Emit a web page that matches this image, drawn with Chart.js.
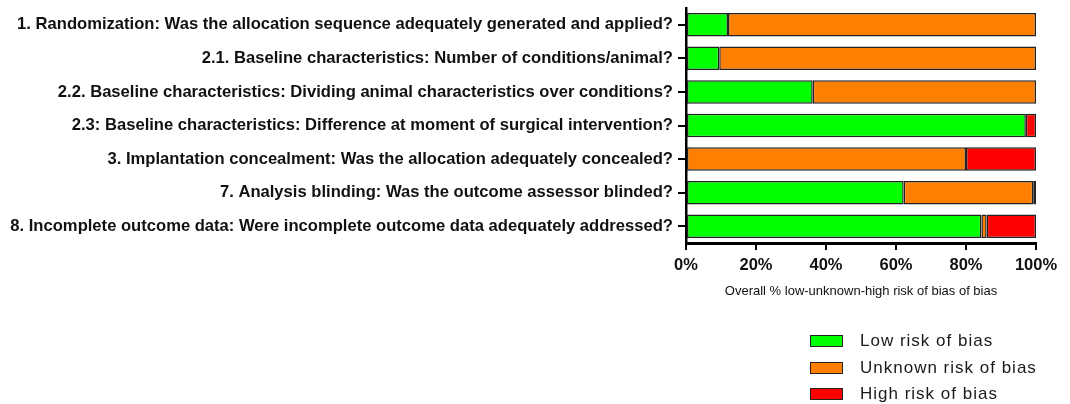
<!DOCTYPE html>
<html>
<head>
<meta charset="utf-8">
<script src="https://cdn.jsdelivr.net/npm/chart.js@4/dist/chart.umd.min.js"></script>
<style>
    html, body { margin: 0; padding: 0; background: #fff; }
    #wrap { position: relative; width: 1070px; height: 404px; }
    #legend { position: absolute; left: 810px; top: 328px; font-family: Arial, "Liberation Sans", sans-serif; font-size: 17px; letter-spacing: 1px; color: #1a1a1a; }
    .row { display: flex; align-items: center; height: 26.5px; }
    .box { width: 31px; height: 10px; border: 1.5px solid #222; margin-right: 17px; }
</style>
</head>
<body>
<div id="wrap">
    <canvas id="chart" width="1070" height="404"></canvas>
    <div id="legend"></div>
</div>
<script>
const questions = [
    '1. Randomization: Was the allocation sequence adequately generated and applied?',
    '2.1. Baseline characteristics: Number of conditions/animal?',
    '2.2. Baseline characteristics: Dividing animal characteristics over conditions?',
    '2.3: Baseline characteristics: Difference at moment of surgical intervention?',
    '3. Implantation concealment: Was the allocation adequately concealed?',
    '7. Analysis blinding: Was the outcome assessor blinded?',
    '8. Incomplete outcome data: Were incomplete outcome data adequately addressed?'
];
const lowRisk = [12, 9.5, 36.2, 97.1, 0, 62.2, 84.4];
const unknownRisk = [88, 90.5, 63.8, 0, 80, 37, 1.5];
const highRisk = [0, 0, 0, 2.9, 20, 0.8, 14.1];
const seriesNames = ['Low risk of bias', 'Unknown risk of bias', 'High risk of bias'];
const seriesColors = ['#00ff00', '#ff8000', '#ff0000'];
const xTicks = [0, 20, 40, 60, 80, 100];

const arial = 'Arial, "Liberation Sans", sans-serif';

const datasets = [lowRisk, unknownRisk, highRisk].map((vals, i) => ({
    label: seriesNames[i],
    data: vals,
    backgroundColor: seriesColors[i],
    borderColor: '#222',
    borderWidth: 1.5,
    borderSkipped: false,
    categoryPercentage: 1,
    barPercentage: 0.7
}));

new Chart(document.getElementById('chart'), {
    type: 'bar',
    data: { labels: questions, datasets: datasets },
    options: {
        indexAxis: 'y',
        responsive: false,
        animation: false,
        layout: { padding: { top: 8, right: 34, bottom: 103, left: 0 } },
        plugins: { legend: { display: false }, tooltip: { enabled: false } },
        scales: {
            y: {
                stacked: true,
                afterFit: scale => {
                    scale.width = 686;
                    // no extra room for half label heights above/below the bars
                    scale.paddingTop = 0;
                    scale.paddingBottom = 0;
                },
                border: { display: true, color: '#000', width: 2.5 },
                grid: { drawOnChartArea: false, color: '#000', lineWidth: 2, tickLength: 8, offset: false },
                ticks: {
                    color: '#111',
                    padding: 5,
                    font: { family: arial, size: 16.6, weight: 'bold' }
                }
            },
            x: {
                stacked: true,
                min: 0,
                max: 100,
                afterBuildTicks: scale => { scale.ticks = xTicks.map(v => ({ value: v })); },
                afterFit: scale => { scale.height = 58; },
                border: { display: true, color: '#000', width: 3 },
                grid: { drawOnChartArea: false, color: '#000', lineWidth: 2, tickLength: 7 },
                ticks: {
                    color: '#111',
                    padding: 6,
                    maxRotation: 0,
                    font: { family: arial, size: 16.5, weight: 'bold' },
                    callback: v => v + '%'
                },
                title: {
                    display: true,
                    text: 'Overall % low-unknown-high risk of bias of bias',
                    color: '#111',
                    padding: { top: 0, bottom: 2 },
                    font: { family: arial, size: 13 }
                }
            }
        }
    }
});

// legend stacked vertically at the bottom right
const legend = document.getElementById('legend');
seriesNames.forEach((name, i) => {
    const row = document.createElement('div');
    row.className = 'row';
    row.innerHTML = `<span class="box" style="background:${seriesColors[i]}"></span><span>${name}</span>`;
    legend.appendChild(row);
});
</script>
</body>
</html>
